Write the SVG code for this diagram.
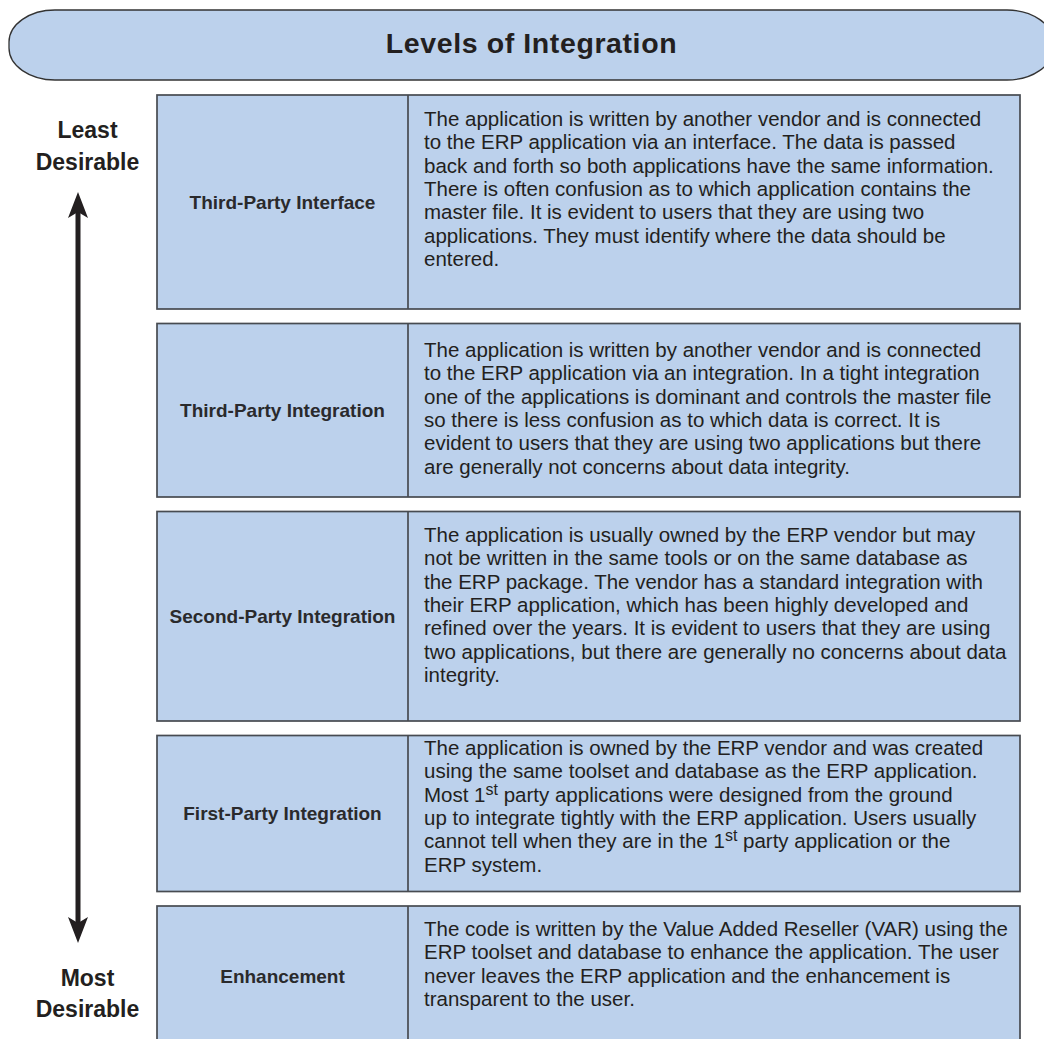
<svg xmlns="http://www.w3.org/2000/svg" width="1044" height="1039" viewBox="0 0 1044 1039">
<style>
.box{fill:#BCD1EC;stroke:#474B51;stroke-width:1.7}
.div{stroke:#474B51;stroke-width:1.7}
.lbl{font-family:"Liberation Sans",Arial,sans-serif;font-weight:bold;font-size:19px;fill:#2A2A2C;text-anchor:middle}
.body{font-family:"Liberation Sans",Arial,sans-serif;font-size:20.5px;fill:#231F20}
.side{font-family:"Liberation Sans",Arial,sans-serif;font-weight:bold;font-size:23px;fill:#231F20;text-anchor:middle}
.title{font-family:"Liberation Sans",Arial,sans-serif;font-weight:bold;font-size:28.5px;letter-spacing:0.6px;fill:#231F20;text-anchor:middle}
</style>
<rect width="1044" height="1039" fill="#FFFFFF"/>
<g id="header">
<rect x="9" y="10" width="1044" height="70" rx="46" ry="32" fill="#BCD1EC" stroke="#333333" stroke-width="1.3"/>
<text class="title" x="531.5" y="53">Levels of Integration</text>
</g>
<g id="scale">
<text class="side" x="87.5" y="138">Least</text>
<text class="side" x="87.5" y="170">Desirable</text>
<text class="side" x="87.5" y="986">Most</text>
<text class="side" x="87.5" y="1017">Desirable</text>
</g>
<g id="connectors">
<rect x="75.5" y="210" width="5" height="715" fill="#231F20"/>
<polygon points="78,192 88,218 78,212 68,218" fill="#231F20"/>
<polygon points="78,943 88,917 78,923 68,917" fill="#231F20"/>
</g>
<g id="row1">
<rect class="box" x="157" y="95" width="863" height="214"/>
<line class="div" x1="408" y1="95" x2="408" y2="309"/>
<text class="lbl" x="282.5" y="208.8">Third-Party Interface</text>
<text class="body" x="424" y="126">
<tspan x="424">The application is written by another vendor and is connected</tspan>
<tspan x="424" dy="23.3">to the ERP application via an interface. The data is passed</tspan>
<tspan x="424" dy="23.3">back and forth so both applications have the same information.</tspan>
<tspan x="424" dy="23.3">There is often confusion as to which application contains the</tspan>
<tspan x="424" dy="23.3">master file. It is evident to users that they are using two</tspan>
<tspan x="424" dy="23.3">applications. They must identify where the data should be</tspan>
<tspan x="424" dy="23.3">entered.</tspan>
</text>
</g>
<g id="row2">
<rect class="box" x="157" y="323.5" width="863" height="173.5"/>
<line class="div" x1="408" y1="323.5" x2="408" y2="497"/>
<text class="lbl" x="282.5" y="417">Third-Party Integration</text>
<text class="body" x="424" y="357">
<tspan x="424">The application is written by another vendor and is connected</tspan>
<tspan x="424" dy="23.3">to the ERP application via an integration. In a tight integration</tspan>
<tspan x="424" dy="23.3">one of the applications is dominant and controls the master file</tspan>
<tspan x="424" dy="23.3">so there is less confusion as to which data is correct. It is</tspan>
<tspan x="424" dy="23.3">evident to users that they are using two applications but there</tspan>
<tspan x="424" dy="23.3">are generally not concerns about data integrity.</tspan>
</text>
</g>
<g id="row3">
<rect class="box" x="157" y="511.5" width="863" height="209.5"/>
<line class="div" x1="408" y1="511.5" x2="408" y2="721"/>
<text class="lbl" x="282.5" y="623">Second-Party Integration</text>
<text class="body" x="424" y="542">
<tspan x="424">The application is usually owned by the ERP vendor but may</tspan>
<tspan x="424" dy="23.3">not be written in the same tools or on the same database as</tspan>
<tspan x="424" dy="23.3">the ERP package. The vendor has a standard integration with</tspan>
<tspan x="424" dy="23.3">their ERP application, which has been highly developed and</tspan>
<tspan x="424" dy="23.3">refined over the years. It is evident to users that they are using</tspan>
<tspan x="424" dy="23.3">two applications, but there are generally no concerns about data</tspan>
<tspan x="424" dy="23.3">integrity.</tspan>
</text>
</g>
<g id="row4">
<rect class="box" x="157" y="735.5" width="863" height="156"/>
<line class="div" x1="408" y1="735.5" x2="408" y2="891.5"/>
<text class="lbl" x="282.5" y="820.3">First-Party Integration</text>
<text class="body" x="424" y="755">
<tspan x="424">The application is owned by the ERP vendor and was created</tspan>
<tspan x="424" dy="23.3">using the same toolset and database as the ERP application.</tspan>
<tspan x="424" dy="23.3">Most 1</tspan><tspan font-size="16" dy="-7">st</tspan><tspan dy="7"> party applications were designed from the ground</tspan>
<tspan x="424" dy="23.3">up to integrate tightly with the ERP application. Users usually</tspan>
<tspan x="424" dy="23.3">cannot tell when they are in the 1</tspan><tspan font-size="16" dy="-7">st</tspan><tspan dy="7"> party application or the</tspan>
<tspan x="424" dy="23.3">ERP system.</tspan>
</text>
</g>
<g id="row5">
<rect class="box" x="157" y="906" width="863" height="141"/>
<line class="div" x1="408" y1="906" x2="408" y2="1047"/>
<text class="lbl" x="282.5" y="983.3">Enhancement</text>
<text class="body" x="424" y="936">
<tspan x="424">The code is written by the Value Added Reseller (VAR) using the</tspan>
<tspan x="424" dy="23.3">ERP toolset and database to enhance the application. The user</tspan>
<tspan x="424" dy="23.3">never leaves the ERP application and the enhancement is</tspan>
<tspan x="424" dy="23.3">transparent to the user.</tspan>
</text>
</g>
</svg>
